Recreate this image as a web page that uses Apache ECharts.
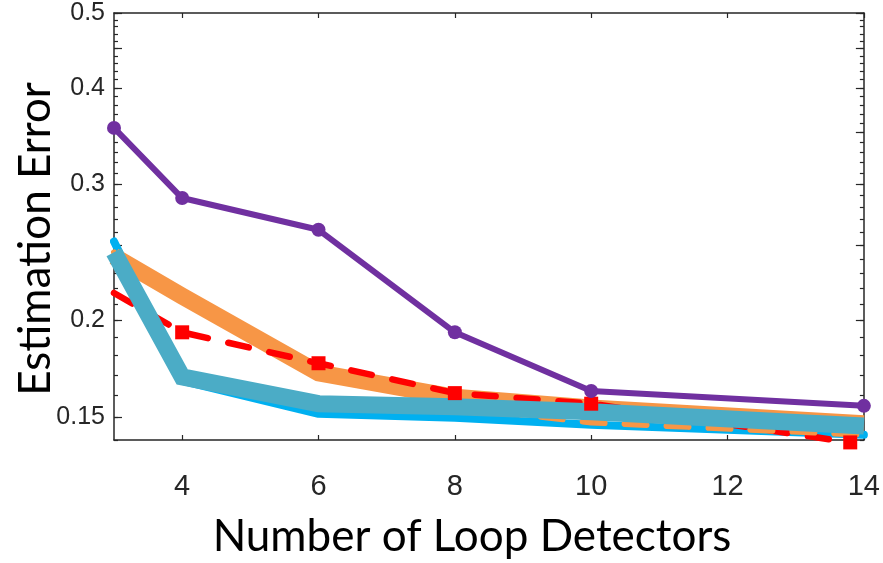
<!DOCTYPE html>
<html>
<head>
<meta charset="utf-8">
<script src="https://cdn.jsdelivr.net/npm/echarts@6/dist/echarts.min.js"></script>
<style>
html,body{margin:0;padding:0;background:#fff;}
#chart{width:883px;height:563px;}
</style>
</head>
<body>
<div id="chart"></div>
<script>
// ---- data ----
const xValues = [3, 4, 6, 8, 10, 14];
const redX = [3, 4, 6, 8, 10, 13.8];

const purpleValues = [0.355, 0.288, 0.262, 0.193, 0.162, 0.155];
const redValues = [0.217, 0.193, 0.176, 0.161, 0.156, 0.139];
const cyanValues = [0.253, 0.167, 0.1514, 0.1496, 0.1465, 0.1422];
const orangeValues = [0.242, 0.215, 0.171, 0.159, 0.154, 0.147];
const orangeDashValues = [0.245, 0.169, 0.156, 0.1546, 0.1475, 0.1422];
const tealValues = [0.245, 0.169, 0.156, 0.1546, 0.1523, 0.146];

const xTicks = [4, 6, 8, 10, 12, 14];
const yLabelTicks = [0.15, 0.2, 0.3, 0.4, 0.5];
const yLabelTexts = ['0.15', '0.2', '0.3', '0.4', '0.5'];
const yMajorTicks = [0.15, 0.2, 0.25, 0.3, 0.35, 0.4, 0.45, 0.5];
const yMinorTicks = [0.14, 0.15, 0.16, 0.17, 0.18, 0.19, 0.2, 0.21, 0.22, 0.23, 0.24, 0.25,
  0.26, 0.27, 0.28, 0.29, 0.3, 0.31, 0.32, 0.33, 0.34, 0.35, 0.36, 0.37, 0.38, 0.39, 0.4,
  0.41, 0.42, 0.43, 0.44, 0.45, 0.46, 0.47, 0.48, 0.49, 0.5];
const yMin = 0.14, yMax = 0.5;

const xTitle = 'Number of Loop Detectors';
const yTitle = 'Estimation Error';

// ---- build options ----
const L = v => Math.log10(v);
const pairs = (xs, ys) => ys.map((v, i) => [xs[i], L(v)]);
const axisColor = '#262626';
const tickFont = '"Liberation Sans", Arial, sans-serif';

function yAxisDef(position, tickVals, len, withLabels, withLine) {
  return {
    type: 'value', position: position, min: L(yMin), max: L(yMax),
    splitLine: {show: false},
    axisLine: {show: withLine, lineStyle: {color: axisColor, width: 1.5}},
    axisTick: {show: true, inside: true, length: len, customValues: tickVals.map(L),
      lineStyle: {color: axisColor, width: 1.2}},
    axisLabel: withLabels ? {
      show: true, customValues: yLabelTicks.map(L), margin: 9,
      fontFamily: tickFont, fontSize: 25, color: axisColor,
      formatter: function (val) {
        for (let i = 0; i < yLabelTicks.length; i++) {
          if (Math.abs(L(yLabelTicks[i]) - val) < 1e-6) return yLabelTexts[i];
        }
        return '';
      }
    } : {show: false}
  };
}

const redData = redValues.map((v, i) => {
  const item = {value: [redX[i], L(v)]};
  if (i === 0) item.symbol = 'none';
  return item;
});

const option = {
  animation: false,
  backgroundColor: '#ffffff',
  grid: {left: 114, right: 16, top: 13, bottom: 123, containLabel: false},
  xAxis: [
    {
      type: 'value', position: 'bottom', min: 3, max: 14,
      splitLine: {show: false},
      axisLine: {show: true, lineStyle: {color: axisColor, width: 1.5}},
      axisTick: {show: true, inside: true, length: 5, customValues: xTicks,
        lineStyle: {color: axisColor, width: 1.2}},
      axisLabel: {show: true, customValues: xTicks, margin: 32,
        fontFamily: tickFont, fontSize: 29, color: axisColor}
    },
    {
      type: 'value', position: 'top', min: 3, max: 14,
      splitLine: {show: false},
      axisLine: {show: true, lineStyle: {color: axisColor, width: 1.5}},
      axisTick: {show: true, inside: true, length: 5, customValues: xTicks,
        lineStyle: {color: axisColor, width: 1.2}},
      axisLabel: {show: false}
    }
  ],
  yAxis: [
    yAxisDef('left', yMajorTicks, 8, true, true),
    yAxisDef('left', yMinorTicks, 4, false, false),
    yAxisDef('right', yMajorTicks, 8, false, true),
    yAxisDef('right', yMinorTicks, 4, false, false)
  ],
  graphic: [
    {type: 'text', z: 10, x: 472, y: 537,
      style: {text: xTitle, font: '44px Lato, sans-serif', fill: '#000',
        textAlign: 'center', textVerticalAlign: 'middle'}},
    {type: 'text', z: 10, x: 36, y: 239, rotation: Math.PI / 2,
      style: {text: yTitle, font: '44px Lato, sans-serif', fill: '#000',
        textAlign: 'center', textVerticalAlign: 'middle'}}
  ],
  series: [
    {
      name: 'cyan', type: 'line', data: pairs(xValues, cyanValues), symbol: 'none', clip: false,
      lineStyle: {color: '#00B0F0', width: 8, cap: 'round', join: 'round'}
    },
    {
      name: 'orange', type: 'line', data: pairs(xValues, orangeValues), symbol: 'none', clip: false,
      lineStyle: {color: '#F79646', width: 17, cap: 'butt', join: 'miter'}
    },
    {
      name: 'red', type: 'line', data: redData, clip: false,
      symbol: 'rect', symbolSize: 14,
      itemStyle: {color: '#FF0000'},
      lineStyle: {color: '#FF0000', width: 6.5, type: [21, 21], cap: 'round', join: 'round'}
    },
    {
      name: 'orangeDash', type: 'line', data: pairs(xValues, orangeDashValues), symbol: 'none', clip: false,
      lineStyle: {color: '#F79646', width: 6, type: [22, 20], cap: 'round', join: 'round'}
    },
    {
      name: 'teal', type: 'line', data: pairs(xValues, tealValues), symbol: 'none', clip: false,
      lineStyle: {color: '#4BACC6', width: 17, cap: 'butt', join: 'miter'}
    },
    {
      name: 'purple', type: 'line', data: pairs(xValues, purpleValues), clip: false,
      symbol: 'circle', symbolSize: 14,
      itemStyle: {color: '#7030A0'},
      lineStyle: {color: '#7030A0', width: 6}
    }
  ]
};

const chart = echarts.init(document.getElementById('chart'), null, {renderer: 'canvas'});
chart.setOption(option);
</script>
</body>
</html>
